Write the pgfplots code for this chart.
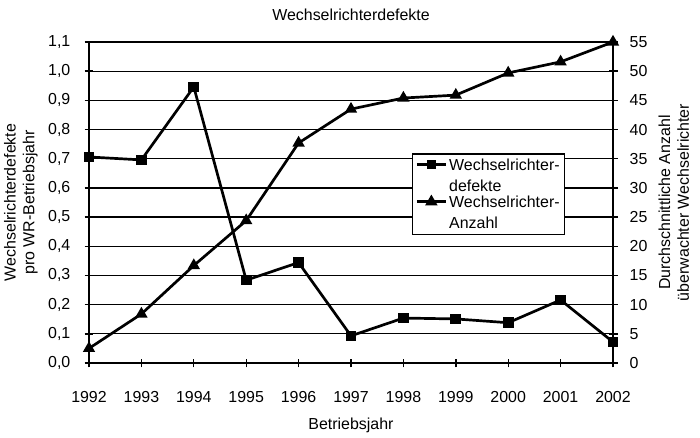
\documentclass[border=0pt]{standalone}
\usepackage{pgfplots}
\pgfplotsset{compat=1.18}
\usepackage{fontspec}
\setmainfont{Liberation Sans}
\begin{document}
\begin{tikzpicture}[font=\fontsize{16}{19}\selectfont]
\pgfplotsset{
  common/.style={
    scale only axis, width=524bp, height=321bp,
    xmin=1992, xmax=2002,
    /pgf/number format/assume math mode=true,
    tick align=center, major tick length=9bp,
    every tick/.style={black, line width=1.4pt},
    axis line style={line width=2.4pt},
    tick label style={font=\fontsize{16}{19}\selectfont},
    label style={font=\fontsize{16}{19}\selectfont},
    legend image code/.code={
      \draw[mark repeat=2, mark phase=2, yshift=11bp, ##1] plot coordinates {(0bp,0bp) (14.5bp,0bp) (29bp,0bp)};
    },
  }
}
\begin{axis}[common,
  ymin=0, ymax=1.1,
  xtick={1992,1993,1994,1995,1996,1997,1998,1999,2000,2001,2002},
  ytick={0,0.1,0.2,0.3,0.4,0.5,0.6,0.7,0.8,0.9,1.0,1.1},
  yticklabel style={/pgf/number format/.cd, fixed, fixed zerofill, precision=1, use comma,
    /tikz/.cd, inner sep=0pt, anchor=east, xshift=-14bp},
  xticklabel style={/pgf/number format/.cd, 1000 sep={},
    /tikz/.cd, inner sep=0pt, anchor=north, yshift=-24bp},
  axis y line*=left, axis x line*=bottom,
  ymajorgrids, grid style={black, line width=1.3pt},
  title={Wechselrichterdefekte},
  every axis title shift=0pt,
  title style={font=\fontsize{16}{19}\selectfont, at={(rel axis cs:0.5,1.084)}, anchor=center, yshift=0pt},
  xlabel={Betriebsjahr},
  xlabel style={at={(rel axis cs:0.5,-0.193)}, anchor=center},
  ylabel={Wechselrichterdefekte\\pro WR-Betriebsjahr},
  ylabel style={align=center, at={(rel axis cs:-0.13,0.5)}, anchor=center},
]
\addplot[black, line width=2.7pt, mark=square*, mark size=4pt] coordinates {
(1992,0.706) (1993,0.696) (1994,0.946) (1995,0.284) (1996,0.344) (1997,0.093)
(1998,0.154) (1999,0.151) (2000,0.138) (2001,0.216) (2002,0.072)};
\draw[black, line width=2.4pt] (rel axis cs:0,1) -- (rel axis cs:1,1);
\coordinate (sw) at (rel axis cs:0,0);
\coordinate (ne) at (rel axis cs:1,1);
\end{axis}
\begin{axis}[common,
  ymin=0, ymax=55,
  ytick={0,5,10,15,20,25,30,35,40,45,50,55},
  yticklabel style={inner sep=0pt, anchor=west, xshift=12bp},
  axis y line*=right, axis x line=none,
  ylabel={Durchschnittliche Anzahl\\überwachter Wechselrichter},
  ylabel style={align=center, at={(rel axis cs:1.116,0.5)}, anchor=center},
  legend style={at={(0.616,0.654)}, anchor=north west, draw=black, line width=1.5pt,
    font=\fontsize{16}{21}\selectfont, cells={align=left}, inner sep=3pt, row sep=-1pt,
    fill=white},
  legend cell align=left,
]
\addlegendimage{black, line width=2.7pt, mark=square*, mark size=3pt}
\addlegendentry{Wechselrichter-\\defekte}
\addplot[black, line width=2.7pt, mark=triangle*, mark size=4.5pt] coordinates {
(1992,2.5) (1993,8.4) (1994,16.7) (1995,24.4) (1996,37.7) (1997,43.5)
(1998,45.4) (1999,45.9) (2000,49.7) (2001,51.6) (2002,55)};
\addlegendentry{Wechselrichter-\\Anzahl}
\end{axis}
\pgfresetboundingbox
\path[use as bounding box] ([shift={(-89bp,-75bp)}]sw) rectangle ([shift={(87bp,42bp)}]ne);
\end{tikzpicture}
\end{document}
